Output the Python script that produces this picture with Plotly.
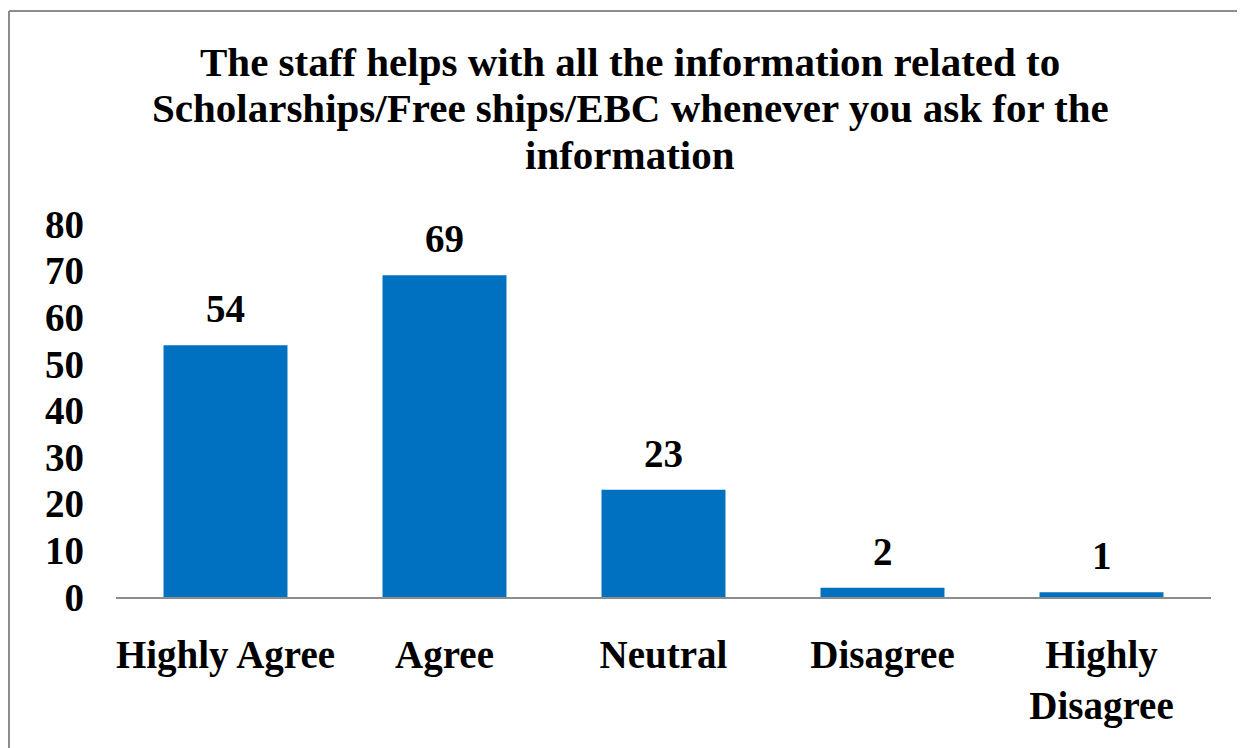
import plotly.graph_objects as go

categories = ["Highly Agree", "Agree", "Neutral", "Disagree", "Highly<br>Disagree"]
values = [54, 69, 23, 2, 1]
y_ticks = [0, 10, 20, 30, 40, 50, 60, 70, 80]
title_lines = [
    "The staff helps with all the information related to",
    "Scholarships/Free ships/EBC whenever you ask for the",
    "information",
]

FONT = "Liberation Serif, Times New Roman, serif"
W, H = 1237, 740
L, T, R, B = 108, 216, 34, 151
PH = H - T - B
PW = W - L - R

def py(fig_y):
    return (H - B - fig_y) / PH

def px(fig_x):
    return (fig_x - L) / PW

fig = go.Figure(go.Bar(
    x=categories, y=values,
    marker=dict(color="#0070C0", line=dict(width=0)),
    cliponaxis=False,
))

annotations = []
for i, line in enumerate(title_lines):
    annotations.append(dict(
        text=line, xref="paper", yref="paper",
        x=px(622), y=py(54 + 46.5 * i), xanchor="center", yanchor="middle",
        showarrow=False,
        font=dict(family=FONT, size=41, color="black", weight="bold"),
    ))
for c, v in zip(categories, values):
    annotations.append(dict(
        text=str(v), x=c, y=v, xref="x", yref="y",
        xanchor="center", yanchor="bottom", yshift=13, showarrow=False,
        font=dict(family=FONT, size=39, color="black", weight="bold"),
    ))

border = dict(color="#8c8c8c", width=2)
fig.update_layout(
    width=W, height=H,
    margin=dict(l=L, r=R, t=T, b=B),
    paper_bgcolor="white", plot_bgcolor="white",
    bargap=0.434,
    showlegend=False,
    font=dict(family=FONT, color="black"),
    xaxis=dict(showline=True, linecolor="#8c8c8c", linewidth=2,
               ticks="", showgrid=False,
               tickfont=dict(family=FONT, size=39, color="black", weight="bold"),
               ticklabelstandoff=22),
    yaxis=dict(range=[0, 80], tickvals=y_ticks, showgrid=False,
               showline=False, zeroline=False, ticks="",
               tickfont=dict(family=FONT, size=39, color="black", weight="bold"),
               ticklabelstandoff=31),
    annotations=annotations,
    shapes=[
        dict(type="line", xref="paper", yref="paper",
             x0=px(1), x1=px(W + 20), y0=py(3), y1=py(3), line=border, layer="below"),
        dict(type="line", xref="paper", yref="paper",
             x0=px(1), x1=px(1), y0=py(3), y1=py(H + 20), line=border, layer="below"),
    ],
)

fig.write_html("out.html")
